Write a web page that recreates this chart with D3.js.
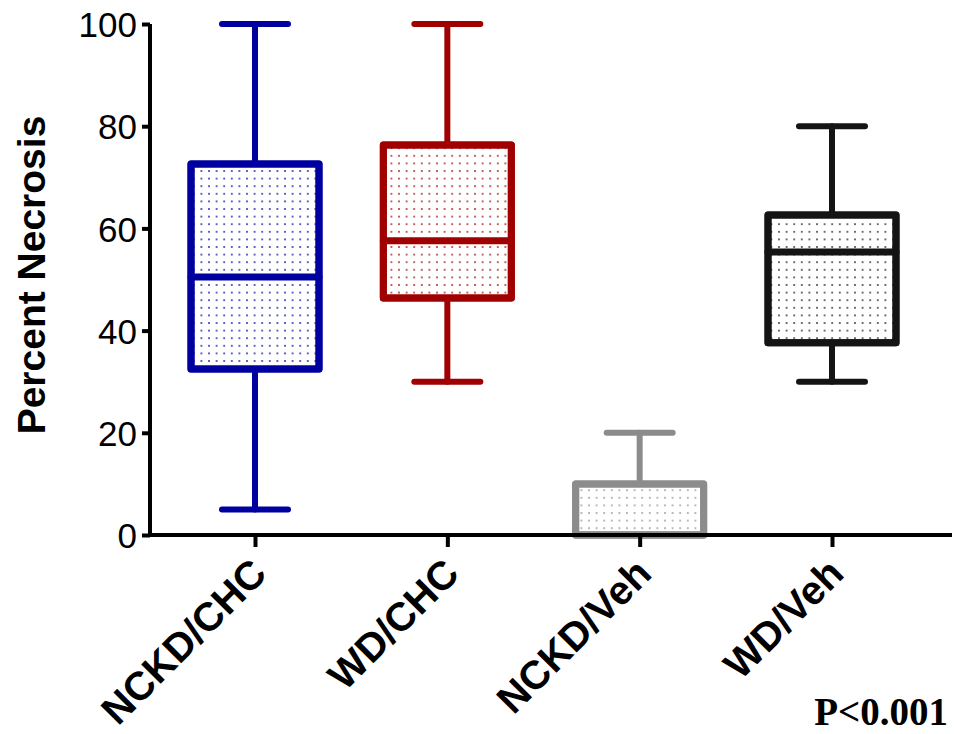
<!DOCTYPE html>
<html>
<head>
<meta charset="utf-8">
<script src="https://cdn.jsdelivr.net/npm/d3@7"></script>
<style>
  body { margin: 0; background: #fff; }
  svg { display: block; }
</style>
</head>
<body>
<svg id="svg" width="955" height="734"></svg>
<script>
// groups and their box stats (min, q1, median, q3, max)
const groups = ['NCKD/CHC', 'WD/CHC', 'NCKD/Veh', 'WD/Veh']
const mins = [5, 30, 0, 30]
const q1s = [32.5, 46.4, 0, 37.6]
const medians = [50.5, 57.6, 0, 55.4]
const q3s = [72.6, 76.3, 10, 62.6]
const maxs = [100, 100, 20, 80]
const colors = ['#0000a0', '#a00000', '#8c8c8c', '#141414']
const yTicks = [0, 20, 40, 60, 80, 100]

let svg = d3.select('#svg')

let x = d3.scalePoint()
  .domain(groups)
  .range([255, 832])

let y = d3.scaleLinear()
  .domain([0, 100])
  .range([535, 24])

let boxW = 128
let capW = 66

// dotted fill patterns
let defs = svg.append('defs')
groups.forEach((g, i) => {
  let p = defs.append('pattern')
    .attr('id', 'dots' + i)
    .attr('width', 7.6)
    .attr('height', 7.6)
    .attr('patternUnits', 'userSpaceOnUse')
  p.append('circle')
    .attr('cx', 3.8)
    .attr('cy', 3.8)
    .attr('r', 1)
    .attr('fill', colors[i])
    .attr('opacity', 0.8)
})

let boxes = svg.selectAll('g.box')
  .data(groups)
  .enter()
  .append('g')
  .attr('class', 'box')
  .attr('stroke', (d, i) => colors[i])
  .attr('stroke-linejoin', 'round')
  .attr('stroke-linecap', 'round')

// whiskers
boxes.append('line')
  .attr('x1', d => x(d))
  .attr('x2', d => x(d))
  .attr('y1', (d, i) => y(maxs[i]))
  .attr('y2', (d, i) => y(mins[i]))
  .attr('stroke-width', 6)

boxes.append('line')
  .attr('x1', d => x(d) - capW / 2)
  .attr('x2', d => x(d) + capW / 2)
  .attr('y1', (d, i) => y(maxs[i]))
  .attr('y2', (d, i) => y(maxs[i]))
  .attr('stroke-width', 6)

boxes.append('line')
  .attr('x1', d => x(d) - capW / 2)
  .attr('x2', d => x(d) + capW / 2)
  .attr('y1', (d, i) => y(mins[i]))
  .attr('y2', (d, i) => y(mins[i]))
  .attr('stroke-width', 6)

// box
boxes.append('rect')
  .attr('x', d => x(d) - boxW / 2)
  .attr('width', boxW)
  .attr('y', (d, i) => y(q3s[i]))
  .attr('height', (d, i) => y(q1s[i]) - y(q3s[i]))
  .attr('fill', '#fff')
  .attr('stroke-width', 7)

boxes.append('rect')
  .attr('x', d => x(d) - boxW / 2)
  .attr('width', boxW)
  .attr('y', (d, i) => y(q3s[i]))
  .attr('height', (d, i) => y(q1s[i]) - y(q3s[i]))
  .attr('fill', (d, i) => 'url(#dots' + i + ')')
  .attr('stroke-width', 7)

// median
boxes.append('line')
  .attr('x1', d => x(d) - boxW / 2)
  .attr('x2', d => x(d) + boxW / 2)
  .attr('y1', (d, i) => y(medians[i]))
  .attr('y2', (d, i) => y(medians[i]))
  .attr('stroke-width', 7)

// y axis
let yAxis = svg.append('g')
  .attr('transform', 'translate(150,0)')
  .call(d3.axisLeft(y).tickValues(yTicks).tickSize(8).tickPadding(5))
yAxis.select('.domain').attr('stroke-width', 4).attr('d', 'M0,' + y(100) + 'V' + y(0))
yAxis.selectAll('.tick line').attr('stroke-width', 4)
yAxis.selectAll('.tick text')
  .attr('font-family', 'Liberation Sans, Arial, sans-serif')
  .attr('font-size', 35)
  .attr('dy', '0.36em')
  .attr('fill', '#000')

// x axis
let xAxis = svg.append('g')
  .attr('transform', 'translate(0,535)')
  .call(d3.axisBottom(x).tickSize(12).tickSizeOuter(0).tickFormat(''))
xAxis.select('.domain').attr('stroke-width', 4).attr('d', 'M148,0H952')
xAxis.selectAll('.tick line').attr('stroke-width', 4)

svg.selectAll('text.xlab')
  .data(groups)
  .enter()
  .append('text')
  .attr('class', 'xlab')
  .attr('transform', d => 'translate(' + (x(d) - 6) + ',556) rotate(-45)')
  .attr('text-anchor', 'end')
  .attr('font-family', 'Liberation Sans, Arial, sans-serif')
  .attr('font-weight', 'bold')
  .attr('font-size', 40)
  .attr('dy', '0.7em')
  .text(d => d)

svg.append('text')
  .attr('transform', 'translate(45,275) rotate(-90)')
  .attr('text-anchor', 'middle')
  .attr('font-family', 'Liberation Sans, Arial, sans-serif')
  .attr('font-weight', 'bold')
  .attr('font-size', 39)
  .text('Percent Necrosis')

svg.append('text')
  .attr('x', 948)
  .attr('y', 725)
  .attr('text-anchor', 'end')
  .attr('font-family', 'Liberation Serif, Times New Roman, serif')
  .attr('font-weight', 'bold')
  .attr('font-size', 39)
  .text('P<0.001')
</script>
</body>
</html>
